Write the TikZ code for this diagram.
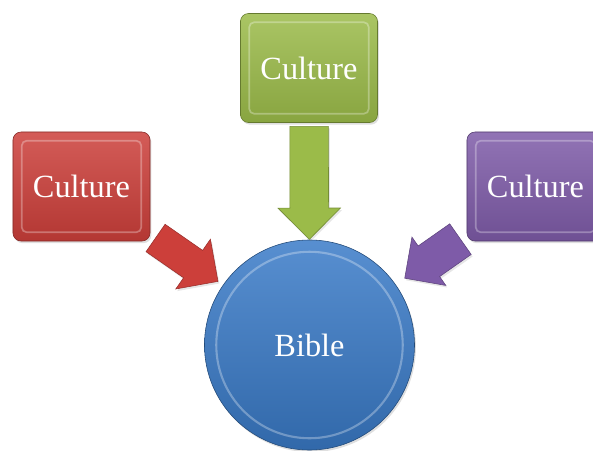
\documentclass[tikz,border=0pt]{standalone}
\usepackage{fontspec}
\setmainfont{Liberation Serif}
\usetikzlibrary{shapes.arrows,shadows}
\definecolor{redC}{HTML}{CC3F3A}
\definecolor{greenC}{HTML}{9BBB49}
\definecolor{purpleC}{HTML}{7E5BA8}
\definecolor{blueC}{HTML}{3A7BC8}
\begin{document}
\begin{tikzpicture}[x=0.025cm,y=-0.025cm,
  culture/.style={shape=rectangle,rounded corners=0.2cm,minimum width=3.425cm,minimum height=2.725cm,
    text=white,font=\fontsize{23}{27}\selectfont,draw=#1!65!black,top color=#1!85!white,bottom color=#1!88!black,
    drop shadow={opacity=0.25,shadow xshift=1pt,shadow yshift=-1.5pt},
    path picture={\draw[white,opacity=0.3,line width=1.2pt,rounded corners=0.12cm]
      ([xshift=0.22cm,yshift=-0.22cm]path picture bounding box.north west) rectangle
      ([xshift=-0.22cm,yshift=0.22cm]path picture bounding box.south east);}},
  bible/.style={shape=circle,minimum size=5.25cm,text=white,font=\fontsize{23}{27}\selectfont,
    draw=blueC!60!black,top color=blueC!85!white,bottom color=blueC!85!black,
    drop shadow={opacity=0.25,shadow xshift=1pt,shadow yshift=-1.5pt},
    path picture={\draw[white,opacity=0.3,line width=1.5pt] (path picture bounding box.center) circle (2.33cm);}},
  flow/.style={shape=single arrow,single arrow head extend=#1,single arrow head indent=0pt,inner xsep=0pt,
    sloped,allow upside down,anchor=tip,
    drop shadow={opacity=0.2,shadow xshift=1pt,shadow yshift=-1.5pt}}]
\path[use as bounding box,clip] (0,0) rectangle (593,450);

\node[culture=greenC] (top) at (309,68) {Culture};
\node[culture=redC] (left) at (81.5,186.5) {Culture};
\node[culture=purpleC] (right) at (535.5,186.5) {Culture};
\node[bible] (B) at (309.5,345) {Bible};

\path (top.center) -- node[flow=0.3cm,inner ysep=0.475cm,minimum height=2.825cm,fill=greenC,draw=greenC!75!black,pos=0.62] (ga) {} (B.center);
\path (left.center) -- node[flow=0.34cm,inner ysep=0.41cm,minimum height=1.9cm,fill=redC,draw=redC!75!black,pos=0.60] (ra) {} (B.center);
\path (right.center) -- node[flow=0.27cm,inner ysep=0.46cm,minimum height=1.7cm,fill=purpleC,draw=purpleC!75!black,pos=0.58] (pa) {} (B.center);
\end{tikzpicture}
\end{document}
